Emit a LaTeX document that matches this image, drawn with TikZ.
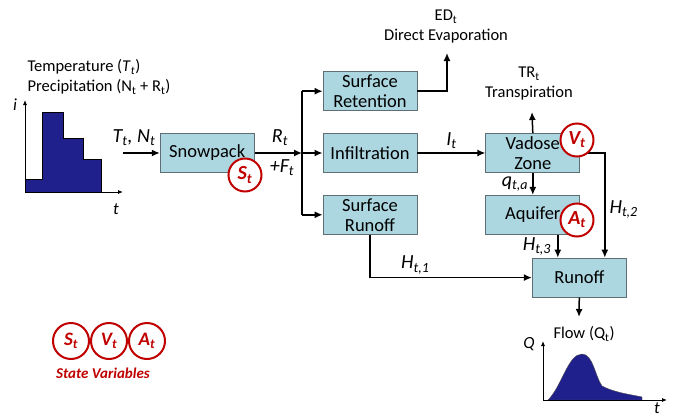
\documentclass[tikz,border=0pt]{standalone}
\usepackage{fontspec}
\setmainfont{Carlito}
\usepackage{xcolor}
\usetikzlibrary{positioning, arrows.meta}

\definecolor{boxblue}{RGB}{172,214,224}
\definecolor{boxedge}{RGB}{95,110,115}
\definecolor{statered}{RGB}{192,0,0}
\definecolor{rainblue}{RGB}{32,32,140}

\tikzset{
  proc/.style={draw=boxedge, fill=boxblue, thick, minimum width=94pt, minimum height=39pt,
    inner sep=1pt, align=center, font=\fontsize{18.5}{20}\selectfont},
  flow/.style={-{Latex[length=8pt, width=7pt]}, line width=1.5pt},
  lbl/.style={align=center, font=\fontsize{16.5}{20}\selectfont},
  var/.style={font=\itshape\fontsize{20}{20}\selectfont, inner sep=1pt},
  axlbl/.style={font=\itshape\fontsize{17}{17}\selectfont, inner sep=1pt},
  statevar/.style={circle, draw=statered, line width=2pt, fill=white, minimum size=33pt,
    inner sep=0pt, text=statered, font=\bfseries\itshape\fontsize{20}{20}\selectfont},
  statekey/.style={statevar, minimum size=36pt, font=\bfseries\itshape\fontsize{19}{19}\selectfont}
}

\begin{document}
\begin{tikzpicture}[x=1pt, y=-1pt]
\useasboundingbox (0,0) rectangle (673,418);

% process boxes
\node[proc] (inf) at (370,153) {Infiltration};
\node[proc, above=22pt of inf] (ret) {Surface\\Retention};
\node[proc, below=22pt of inf] (srun) {Surface\\Runoff};
\node[proc, left=68pt of inf] (snow) {Snowpack};
\node[proc, right=68pt of inf] (vad) {Vadose\\Zone};
\node[proc, below=22pt of vad] (aqu) {Aquifer};
\node[proc, below=23pt of aqu, xshift=46.5pt] (run) {Runoff};

% free ends and labels
\coordinate (in) at (123,153);
\coordinate (split) at (302,153);
\coordinate (evtip) at (447,53);
\coordinate (trtip) at (532,112);
\coordinate (qtip) at (579,317);
\node[lbl] (evap) at (446,27) {ED\textsubscript{t}\\Direct Evaporation};
\node[lbl] (trans) at (529,84) {TR\textsubscript{t}\\Transpiration};

% connectors
\draw[flow] (in) -- (snow);
\node[var] (tn) at (134,138) {T\textsubscript{t}, N\textsubscript{t}};
\draw[flow] (snow) -- (split);
\node[var] (rt) at (280,138) {R\textsubscript{t}};
\node[var] (ft) at (282,168) {+F\textsubscript{t}};
\draw[line width=1.5pt] (split |- ret) -- (split |- srun);
\draw[flow] (split |- ret) -- (ret);
\draw[flow] (split) -- (inf);
\draw[flow] (split |- srun) -- (srun);
\draw[flow] (ret.east) -| (evtip);
\draw[flow] (inf) -- node[var, above=3pt] {I\textsubscript{t}} (vad);
\draw[flow] (vad.north) -- (trtip);
\draw[flow] (vad) -- node[var, left=3pt] {q\textsubscript{t,a}} (aqu);
\draw[flow] (vad.east) -| node[var, pos=0.77, right=3pt] {H\textsubscript{t,2}} ([xshift=25.5pt]run.north);
\draw[flow] ([xshift=25pt]aqu.south) -- node[var, left=5pt] {H\textsubscript{t,3}} ([xshift=25pt]aqu.south |- run.north);
\draw[flow] (srun.south) |- node[var, pos=0.64, above=2pt] {H\textsubscript{t,1}} (run.west);
\draw[flow] (run.south) -- (qtip);

% state variables on boxes
\node[statevar] (st) at (245,175) {S\textsubscript{t}};
\node[statevar] (vt) at (577,140) {V\textsubscript{t}};
\node[statevar] (at) at (577,220) {A\textsubscript{t}};

% rainfall plot
\node[lbl, anchor=west] (temp) at (24,67) {Temperature (\textit{T}\textsubscript{\textit{t}})};
\node[lbl, anchor=west] (prec) at (24,87) {Precipitation (N\textsubscript{t} + R\textsubscript{t})};
\fill[rainblue, draw=black, thin] (25,192) -- (25,179) -- (42,179) -- (42,112) -- (63,112) -- (63,138)
  -- (83,138) -- (83,159) -- (101,159) -- (101,192) -- cycle;
\coordinate (ho) at (25,192);
\draw[-{Latex[length=5pt, width=4pt]}, thick] (ho) -- (25,100);
\draw[-{Latex[length=5pt, width=4pt]}, thick] (ho) -- (123,192);
\node[axlbl] (ilbl) at (15,105) {i};
\node[axlbl] (tlbl) at (116,209) {t};

% flow plot
\node[lbl] (flowlbl) at (584,334) {Flow (Q\textsubscript{t})};
\fill[rainblue, draw=black!70, thin] (548,400) .. controls (562,386) and (568,354) .. (582,354)
  .. controls (593,354) and (595,376) .. (602,386) .. controls (615,393) and (634,395) .. (642,397)
  -- (642,400) -- cycle;
\coordinate (qo) at (543,400);
\draw[-{Latex[length=5pt, width=4pt]}, thick] (qo) -- (543,341);
\draw[-{Latex[length=5pt, width=4pt]}, thick] (qo) -- (667,400);
\node[axlbl] (qlbl) at (529,344) {Q};
\node[axlbl] (flowt) at (657,408) {t};

% legend
\foreach \v [count=\i] in {S,V,A}
  \node[statekey] (key\v) at (33+38*\i,341) {\v\textsubscript{t}};
\node[text=statered, font=\bfseries\itshape\fontsize{15}{15}\selectfont] (keytxt) at (103,373) {State Variables};
\end{tikzpicture}
\end{document}
